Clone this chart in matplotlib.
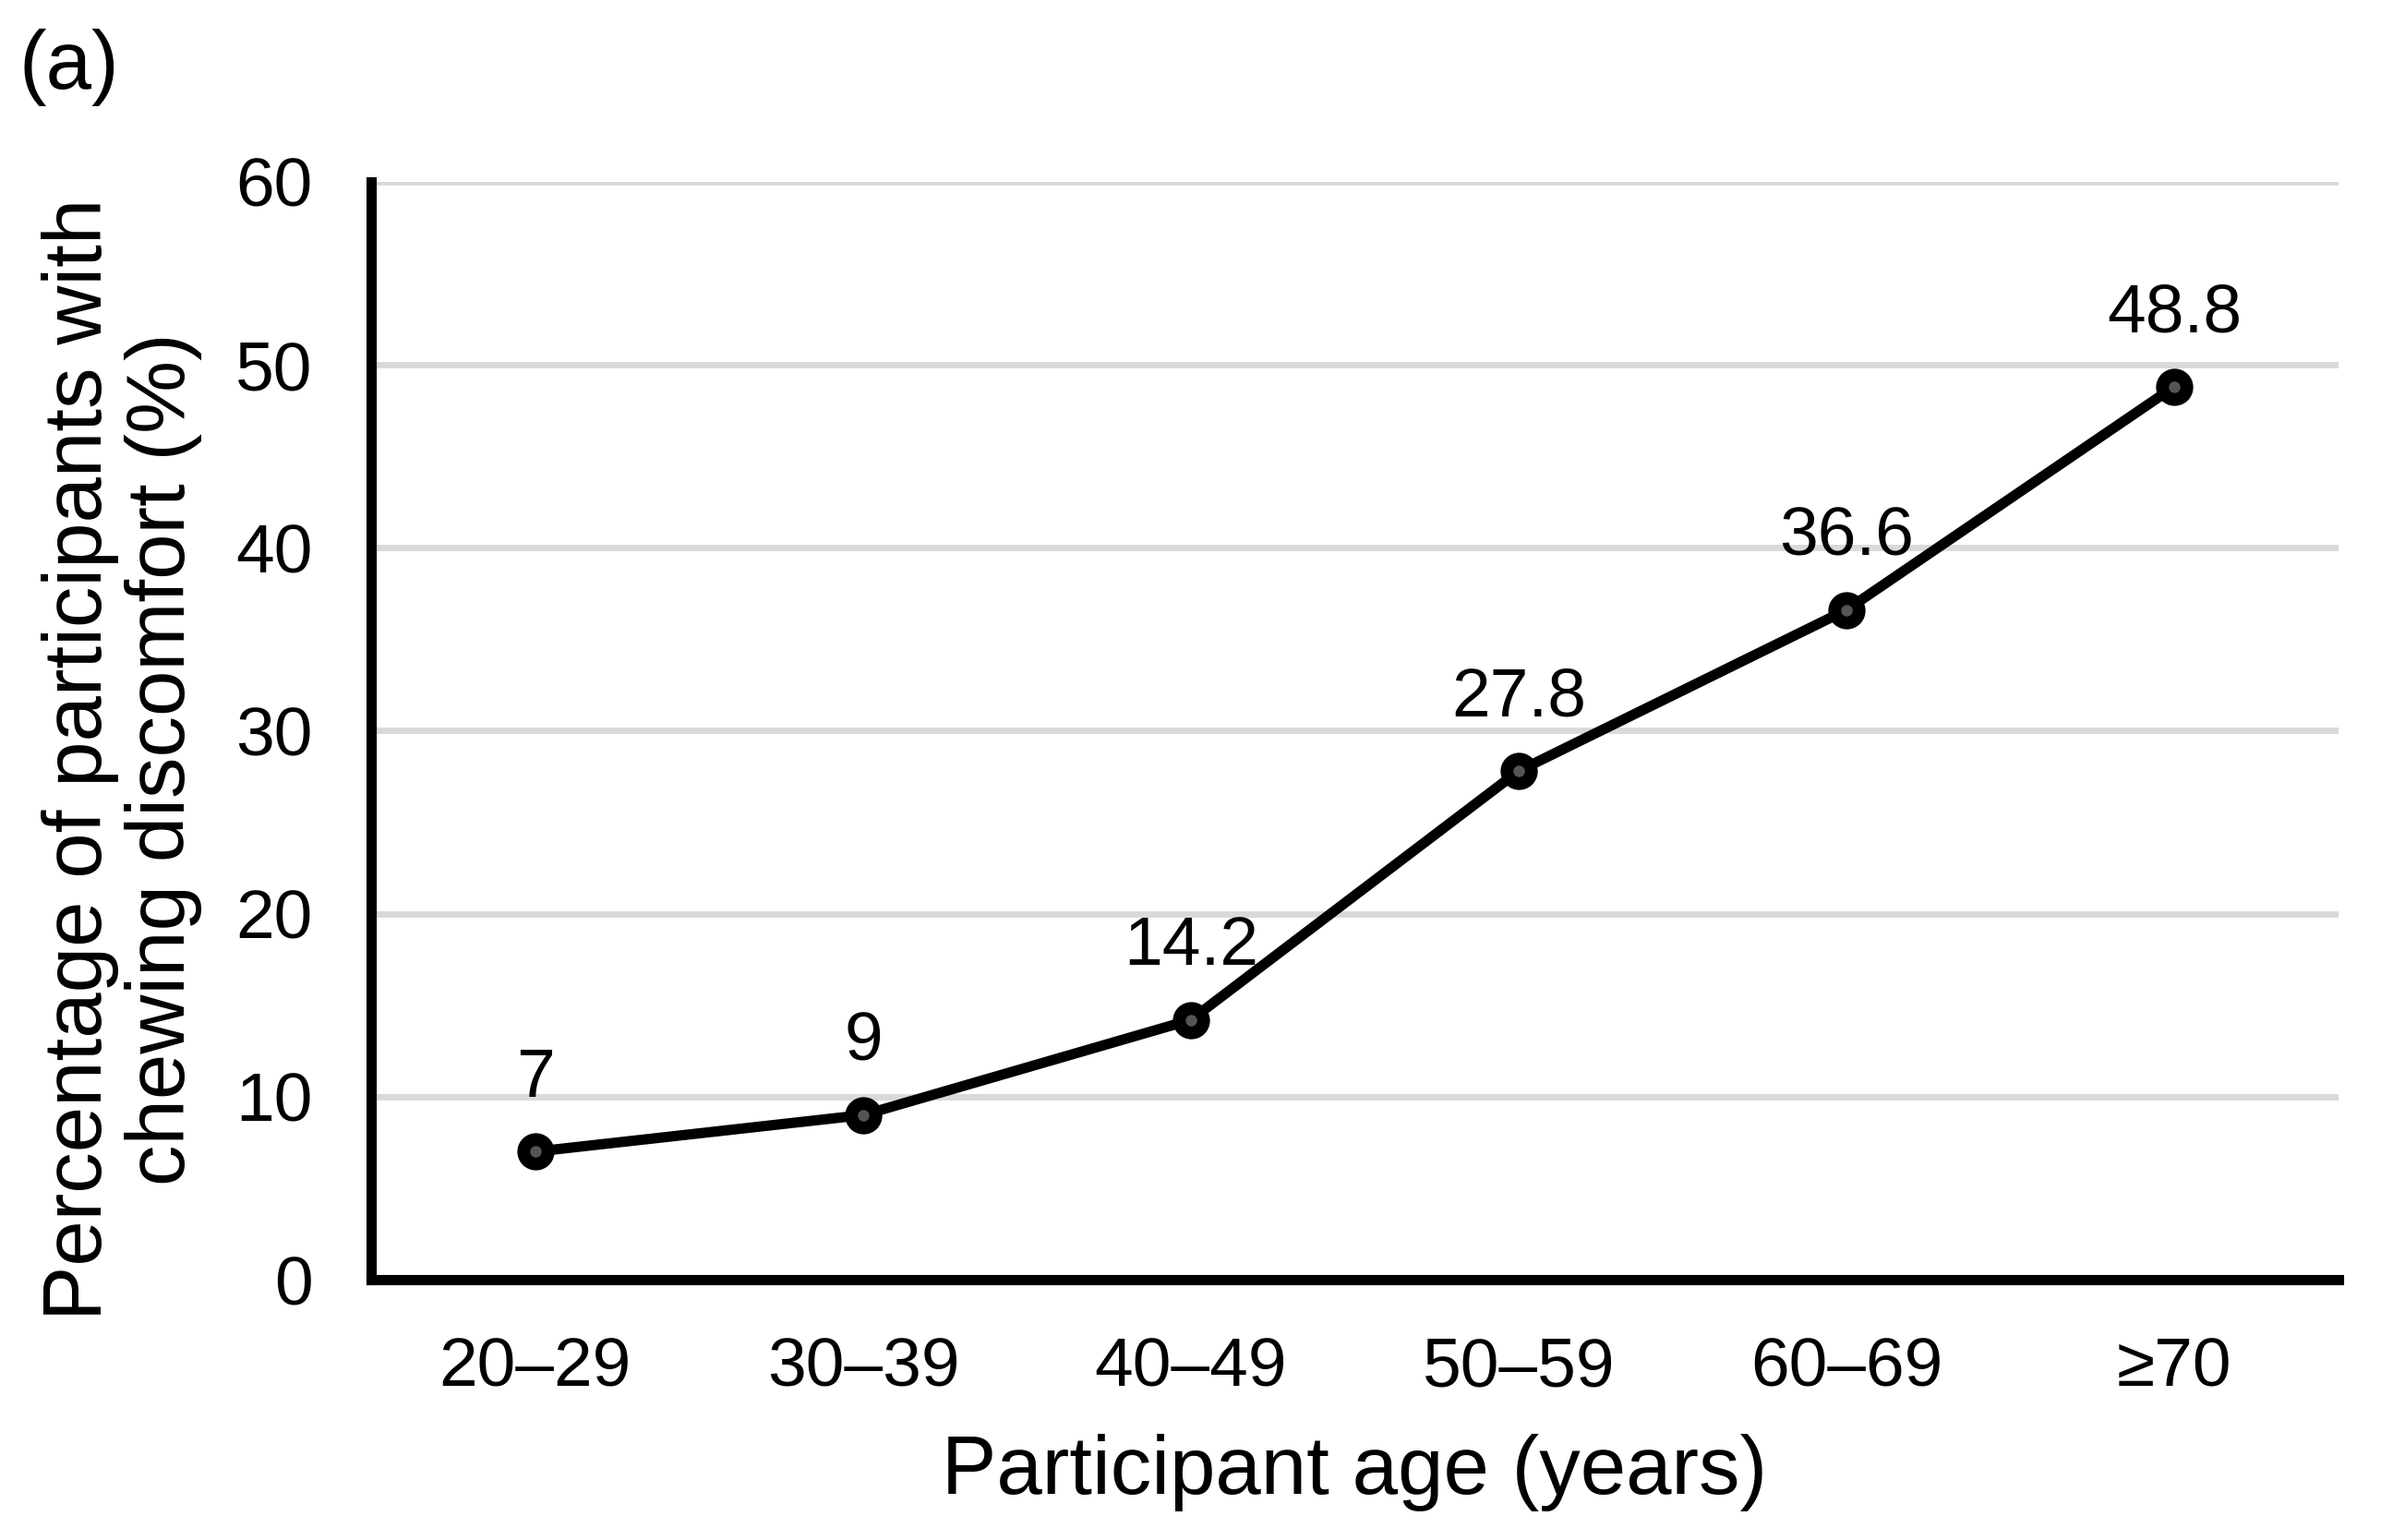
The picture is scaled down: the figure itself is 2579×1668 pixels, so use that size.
import matplotlib
matplotlib.use("Agg")
import matplotlib.pyplot as plt

categories = ["20\u201329", "30\u201339", "40\u201349", "50\u201359", "60\u201369", "\u226570"]
values = [7, 9, 14.2, 27.8, 36.6, 48.8]
value_labels = ["7", "9", "14.2", "27.8", "36.6", "48.8"]
yticks = [0, 10, 20, 30, 40, 50, 60]

plt.rcParams['font.family'] = ['Liberation Sans', 'DejaVu Sans']

fig = plt.figure(figsize=(25.79, 16.68), dpi=100)
ax = fig.add_axes([0.156, 0.169, 0.982 - 0.156, 0.882 - 0.169])

x = list(range(len(categories)))
ax.set_xlim(-0.5, len(categories) - 0.5)
ax.set_ylim(0, 60)
ax.set_yticks(yticks)
ax.set_xticks(x)
ax.set_xticklabels(categories)

for g in yticks[1:]:
    ax.axhline(g, color='#d9d9d9', lw=5, zorder=0)

ax.plot(x, values, color='black', lw=8, marker='o', markersize=19,
        markerfacecolor='#555555', markeredgecolor='black', markeredgewidth=10,
        zorder=3, clip_on=False)

for xi, v, lab in zip(x, values, value_labels):
    ax.annotate(lab, (xi, v), xytext=(0, 32), textcoords='offset points',
                ha='center', va='bottom', fontsize=54, color='black')

for s in ['top', 'right']:
    ax.spines[s].set_visible(False)
for s in ['left', 'bottom']:
    ax.spines[s].set_linewidth(8)
    ax.spines[s].set_color('black')

ax.tick_params(axis='both', length=0, labelsize=54, colors='black')
ax.tick_params(axis='y', pad=46)
ax.tick_params(axis='x', pad=44)

ax.text(-0.127, 0.474, "Percentage of participants with\nchewing discomfort (%)",
        transform=ax.transAxes, rotation=90, ha='center', va='center',
        fontsize=64, linespacing=1.1, color='black')
ax.text(0.5, -0.176, "Participant age (years)", transform=ax.transAxes,
        ha='center', va='center', fontsize=64, color='black')

fig.text(0.029, 0.956, "(a)", ha='center', va='center', fontsize=64, color='black')

fig.savefig("out.png", dpi=100)
